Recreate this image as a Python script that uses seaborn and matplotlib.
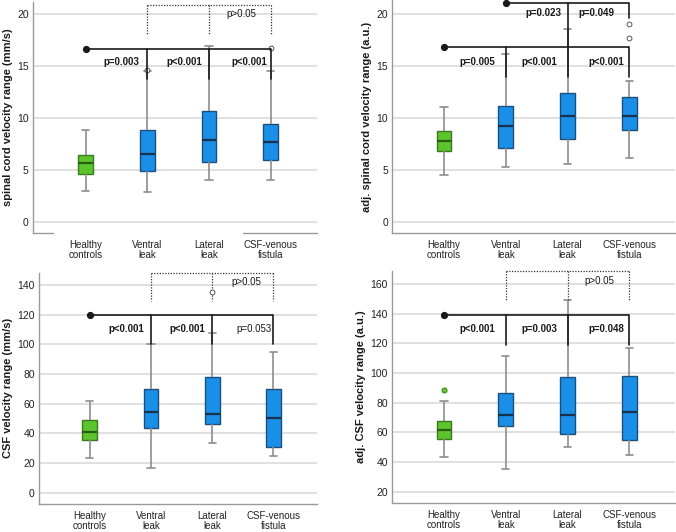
import matplotlib

matplotlib.use("Agg")

import matplotlib.pyplot as plt
import pandas as pd
import seaborn as sns

sns.set_theme(style="whitegrid")
plt.rcParams["font.family"] = ["Liberation Sans", "DejaVu Sans"]

GROUPS = ["Healthy\ncontrols", "Ventral\nleak", "Lateral\nleak", "CSF-venous\nfistula"]
FILL = ["#5cc42c", "#1a8fe8", "#1a8fe8", "#1a8fe8"]
GREEN_EDGE = "#3b7a1f"
BLUE_EDGE = "#1d4f7c"
WHISKER = "#8e8e8e"
INK = "#1a1a1a"

# spinal cord velocity range (mm/s)
sc_low = [2.92, 2.83, 3.98, 4.01]
sc_q1 = [4.56, 4.91, 5.75, 5.97]
sc_med = [5.68, 6.52, 7.87, 7.70]
sc_q3 = [6.39, 8.83, 10.69, 9.44]
sc_high = [8.83, 14.5, 16.9, 14.5]
sc_out_group = [1, 3]
sc_out_value = [14.65, 16.75]

# adj. spinal cord velocity range (a.u.)
asc_low = [4.58, 5.28, 5.57, 6.16]
asc_q1 = [6.88, 7.17, 7.97, 8.90]
asc_med = [7.78, 9.22, 10.18, 10.24]
asc_q3 = [8.80, 11.17, 12.45, 12.0]
asc_high = [11.04, 16.16, 18.53, 13.54]
asc_out_group = [3, 3]
asc_out_value = [19.04, 17.66]

# CSF velocity range (mm/s)
csf_low = [23.6, 16.9, 33.8, 24.8]
csf_q1 = [35.6, 43.9, 46.1, 31.1]
csf_med = [41.2, 54.7, 52.9, 50.6]
csf_q3 = [48.8, 69.8, 78.3, 70.0]
csf_high = [62.1, 100.2, 107.6, 95.2]
csf_out_group = [2]
csf_out_value = [135.7]

# adj. CSF velocity range (a.u.)
acsf_low = [43.5, 35.0, 50.2, 44.9]
acsf_q1 = [55.2, 64.4, 59.2, 54.9]
acsf_med = [61.4, 72.0, 72.0, 73.5]
acsf_q3 = [67.3, 86.8, 97.1, 97.7]
acsf_high = [80.9, 111.6, 149.0, 117.0]
acsf_out_group = [0]
acsf_out_value = [88.5]

# significance brackets: (start group, end groups, height, drop-to per end)
sc_brackets = [(0, [1, 2, 3], 16.63, [13.8, 13.8, 13.8])]
sc_ptext = [("p=0.003", 0.58, 15.35, "bold"), ("p<0.001", 1.60, 15.35, "bold"),
            ("p<0.001", 2.66, 15.35, "bold")]
sc_ns = (1, 3, 20.87, 18.14, 2.52, 20.0)

asc_brackets = [(0, [1, 2, 3], 16.83, [13.98, 13.98, 13.98]),
                (1, [2, 3], 21.02, [16.83, 19.6])]
asc_ptext = [("p=0.005", 0.54, 15.4, "bold"), ("p<0.001", 1.55, 15.4, "bold"),
             ("p<0.001", 2.62, 15.4, "bold"), ("p=0.023", 1.61, 20.1, "bold"),
             ("p=0.049", 2.47, 20.1, "bold")]

csf_brackets = [(0, [1, 2, 3], 120.0, [100.2, 100.2, 100.2])]
csf_ptext = [("p<0.001", 0.59, 110.7, "bold"), ("p<0.001", 1.60, 110.7, "bold"),
             ("p=0.053", 2.68, 110.7, "normal")]
csf_ns = (1, 3, 148.1, 129.4, 2.56, 142.2)

acsf_brackets = [(0, [1, 2, 3], 139.2, [119.0, 119.0, 119.0])]
acsf_ptext = [("p<0.001", 0.54, 129.5, "bold"), ("p=0.003", 1.55, 129.5, "bold"),
              ("p=0.048", 2.62, 129.5, "bold")]
acsf_ns = (1, 3, 168.3, 149.3, 2.52, 162.2)


def five_point_frame(low, q1, med, q3, high):
    """Five values per group give exactly these quartiles and whisker ends."""
    rows = []
    for i, g in enumerate(GROUPS):
        for v in (low[i], q1[i], med[i], q3[i], high[i]):
            rows.append({"group": g, "value": v})
    return pd.DataFrame(rows)


def draw_panel(ax, stats, out_group, out_value, ylabel, ylim, yticks, xlim,
               brackets, ptexts, ns=None):
    df = five_point_frame(*stats)
    sns.boxplot(
        data=df, x="group", y="value", hue="group", order=GROUPS, hue_order=GROUPS,
        palette=FILL, saturation=1, width=0.24, whis=(0, 100), showfliers=False,
        legend=False, linewidth=1.0, linecolor=BLUE_EDGE, ax=ax,
        whiskerprops={"color": WHISKER, "linewidth": 1.2},
        capprops={"color": WHISKER, "linewidth": 1.2},
        medianprops={"color": "#18324d", "linewidth": 1.6},
    )
    for patch in ax.patches:
        if abs(patch.get_path().vertices[:, 0].mean()) < 0.5:
            patch.set_edgecolor(GREEN_EDGE)
    for line in ax.lines:
        xs = line.get_xdata()
        if len(xs) and abs(sum(xs) / len(xs)) < 0.3 and line.get_color() == "#18324d":
            line.set_color("#2c5a17")

    for g, v in zip(out_group, out_value):
        if g == 0:
            ax.scatter(g, v, s=14, facecolor=FILL[0], edgecolor=GREEN_EDGE,
                       linewidth=0.6, zorder=4)
        else:
            ax.scatter(g, v, s=12, facecolor="white", edgecolor="#555555",
                       linewidth=0.7, zorder=4)

    for start, ends, y, drops in brackets:
        ax.plot([start, max(ends)], [y, y], color=INK, lw=1.2, zorder=5,
                clip_on=False, solid_capstyle="butt")
        ax.plot([start], [y], "o", color=INK, ms=4.2, zorder=6, clip_on=False)
        for e, d in zip(ends, drops):
            ax.plot([e, e], [y, d], color=INK, lw=1.2, zorder=5, clip_on=False)
    for text, x, y, weight in ptexts:
        ax.text(x, y, text, ha="center", va="center", fontsize=7,
                fontweight=weight, color=INK, zorder=7)
    if ns is not None:
        x0, x1, y, drop, tx, ty = ns
        ax.plot([x0, x1], [y, y], color="#333333", lw=0.9, ls=(0, (1, 1.2)),
                clip_on=False)
        for xv in range(x0, x1 + 1):
            ax.plot([xv, xv], [y, drop], color="#333333", lw=0.9,
                    ls=(0, (1, 1.2)), clip_on=False)
        ax.text(tx, ty, "p>0.05", ha="center", va="center", fontsize=7,
                color=INK)

    ax.set_xlim(*xlim)
    ax.set_ylim(*ylim)
    ax.set_yticks(yticks)
    ax.set_xlabel("")
    ax.set_ylabel(ylabel, fontsize=8, fontweight="bold", color=INK, labelpad=3)
    ax.grid(axis="y", color="#dadada", linewidth=1.2)
    ax.grid(axis="x", visible=False)
    ax.set_axisbelow(True)
    ax.tick_params(axis="y", length=0, labelsize=7.5, colors="#222222", pad=3)
    ax.tick_params(axis="x", length=0, labelsize=7, colors="#222222", pad=5)
    for lbl in ax.get_xticklabels():
        lbl.set_linespacing(1.05)
    for side in ("top", "right"):
        ax.spines[side].set_visible(False)
    for side in ("left", "bottom"):
        ax.spines[side].set_color("#9a9a9a")
        ax.spines[side].set_linewidth(1.0)


fig = plt.figure(figsize=(6.76, 5.32), dpi=100)
ax1 = fig.add_axes([0.0488, 0.562, 0.420, 0.434])
ax2 = fig.add_axes([0.580, 0.562, 0.4186, 0.438])
ax3 = fig.add_axes([0.0577, 0.0526, 0.411, 0.435])
ax4 = fig.add_axes([0.580, 0.0545, 0.4186, 0.436])

draw_panel(ax1, (sc_low, sc_q1, sc_med, sc_q3, sc_high), sc_out_group, sc_out_value,
           "spinal cord velocity range (mm/s)", (-1.09, 21.17), [0, 5, 10, 15, 20],
           (-0.855, 3.75), sc_brackets, sc_ptext, sc_ns)
draw_panel(ax2, (asc_low, asc_q1, asc_med, asc_q3, asc_high), asc_out_group, asc_out_value,
           "adj. spinal cord velocity range (a.u.)", (-1.03, 21.33), [0, 5, 10, 15, 20],
           (-0.84, 3.74), asc_brackets, asc_ptext)
draw_panel(ax3, (csf_low, csf_q1, csf_med, csf_q3, csf_high), csf_out_group, csf_out_value,
           "CSF velocity range (mm/s)", (-7.6, 148.5), list(range(0, 141, 20)),
           (-0.83, 3.71), csf_brackets, csf_ptext, csf_ns)
draw_panel(ax4, (acsf_low, acsf_q1, acsf_med, acsf_q3, acsf_high), acsf_out_group,
           acsf_out_value, "adj. CSF velocity range (a.u.)", (12.4, 168.6),
           list(range(20, 161, 20)), (-0.84, 3.74), acsf_brackets, acsf_ptext, acsf_ns)

# the first panel's baseline is only drawn at both ends
ax1.spines["bottom"].set_visible(False)
ax1.axhline(-1.09, xmin=0.0, xmax=0.07, color="#9a9a9a", lw=1.0, clip_on=False)
ax1.axhline(-1.09, xmin=0.74, xmax=1.0, color="#9a9a9a", lw=1.0, clip_on=False)

fig.savefig("out.png", dpi=100)
